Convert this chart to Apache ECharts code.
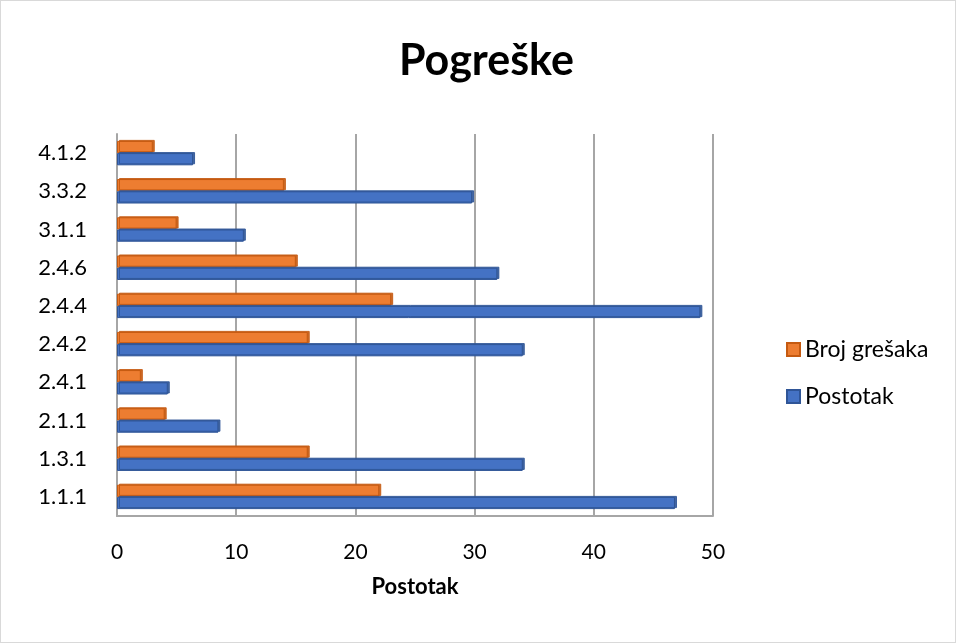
<!DOCTYPE html>
<html>
<head>
<meta charset="utf-8">
<script src="https://cdn.jsdelivr.net/npm/echarts@6/dist/echarts.min.js"></script>
<style>
  html, body { margin: 0; padding: 0; background: #fff; }
  #main { width: 954px; height: 641px; border: 1px solid #d9d9d9; }
</style>
</head>
<body>
<div id="main"></div>
<script>
// kategorije odozdo prema gore
let categories = ['1.1.1', '1.3.1', '2.1.1', '2.4.1', '2.4.2', '2.4.4', '2.4.6', '3.1.1', '3.3.2', '4.1.2'];
let brojGresaka = [22, 16, 4, 2, 16, 23, 15, 5, 14, 3];
let postotak = [46.81, 34.04, 8.51, 4.26, 34.04, 48.94, 31.91, 10.64, 29.79, 6.38];
let xTicks = [0, 10, 20, 30, 40, 50];

let myChart = echarts.init(document.getElementById('main'));

let font = 'Lato, "Open Sans", sans-serif';

let option = {
    animation: false,
    title: {
        text: 'Pogreške',
        left: 393,
        top: 34,
        textStyle: { fontFamily: font, fontSize: 43, fontWeight: 'bold', color: '#000' }
    },
    legend: {
        orient: 'vertical',
        left: 780,
        top: 332,
        itemWidth: 13,
        itemHeight: 13,
        itemGap: 24,
        icon: 'rect',
        data: ['Broj grešaka', 'Postotak'],
        textStyle: { fontFamily: font, fontSize: 23, color: '#000' }
    },
    grid: {
        left: 116,
        right: 242,
        top: 133,
        bottom: 126
    },
    xAxis: {
        type: 'value',
        min: xTicks[0],
        max: xTicks[xTicks.length - 1],
        interval: 10,
        name: 'Postotak',
        nameLocation: 'middle',
        nameGap: 60,
        nameTextStyle: { fontFamily: font, fontSize: 22, fontWeight: 'bold', color: '#000' },
        axisLine: { show: true, lineStyle: { color: '#a6a6a6', width: 2 } },
        axisTick: { show: false },
        axisLabel: { margin: 26, fontFamily: font, fontSize: 21, color: '#000' },
        splitLine: { show: true, lineStyle: { color: '#a6a6a6', width: 2 } }
    },
    yAxis: {
        type: 'category',
        data: categories,
        axisLine: { show: true, lineStyle: { color: '#a6a6a6', width: 2 } },
        axisTick: { show: false },
        axisLabel: { margin: 30, fontFamily: font, fontSize: 22, color: '#000' }
    },
    series: [
        {
            name: 'Broj grešaka',
            type: 'bar',
            data: brojGresaka,
            barGap: '0%',
            barCategoryGap: '36%',
            itemStyle: {
                color: '#ED7D31',
                borderColor: '#C55A11',
                borderWidth: 1,
                shadowColor: 'rgba(197,90,17,0.9)',
                shadowOffsetX: 2,
                shadowOffsetY: -1
            }
        },
        {
            name: 'Postotak',
            type: 'bar',
            data: postotak,
            barGap: '0%',
            barCategoryGap: '36%',
            itemStyle: {
                color: '#4472C4',
                borderColor: '#2F5597',
                borderWidth: 1,
                shadowColor: 'rgba(47,85,151,0.9)',
                shadowOffsetX: 2,
                shadowOffsetY: -1
            }
        }
    ]
};
myChart.setOption(option);
</script>
</body>
</html>
